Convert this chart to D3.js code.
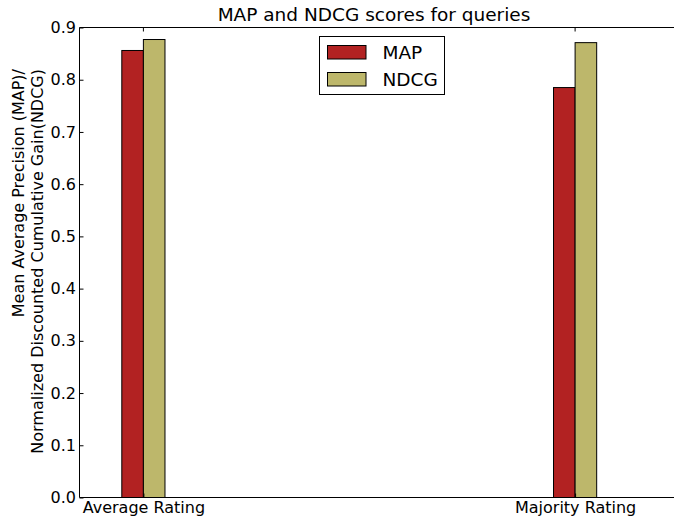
<!DOCTYPE html>
<html>
<head>
<meta charset="utf-8">
<script src="https://cdn.jsdelivr.net/npm/d3@7"></script>
<style>
  body { margin: 0; background: #fff; }
  text { font-family: "DejaVu Sans", sans-serif; fill: #000; }
</style>
</head>
<body>
<svg width="674" height="523"></svg>
<script>
var categories = ['Average Rating', 'Majority Rating'];
var mapScores = [0.856, 0.785];
var ndcgScores = [0.877, 0.871];
var seriesNames = ['MAP', 'NDCG'];
var yTicks = [0, 0.1, 0.2, 0.3, 0.4, 0.5, 0.6, 0.7, 0.8, 0.9];

var colors = { MAP: '#b22222', NDCG: '#bdb76b' };
var barW = 0.05;

var plotLeft = 79.5, plotRight = 680, plotTop = 27.5, plotBottom = 497.5;
var svg = d3.select('svg');

var x = d3.scaleLinear().domain([-0.148, 1.243]).range([plotLeft, plotRight]);
var y = d3.scaleLinear().domain([0, 0.9]).range([plotBottom, plotTop]);

// MAP bar left of the tick, NDCG bar right of it
var groups = categories.map(function(c, i) {
  return { cat: c, i: i, MAP: mapScores[i], NDCG: ndcgScores[i] };
});

var g = svg.append('g');
seriesNames.forEach(function(s, k) {
  g.selectAll('.bar-' + s)
    .data(groups)
    .enter()
    .append('rect')
    .attr('x', d => x(d.i + (k - 1) * barW))
    .attr('width', x(barW) - x(0))
    .attr('y', d => y(d[s]))
    .attr('height', d => y(0) - y(d[s]))
    .attr('fill', colors[s])
    .attr('stroke', '#000')
    .attr('stroke-width', 1);
});

// frame
svg.append('line').attr('x1', plotLeft).attr('x2', 674).attr('y1', plotTop).attr('y2', plotTop).attr('stroke', '#000');
svg.append('line').attr('x1', plotLeft).attr('x2', 674).attr('y1', plotBottom).attr('y2', plotBottom).attr('stroke', '#000');
svg.append('line').attr('x1', plotLeft).attr('x2', plotLeft).attr('y1', plotTop).attr('y2', plotBottom).attr('stroke', '#000');

// y axis, ticks inward
var yAxis = svg.append('g')
  .attr('transform', 'translate(' + plotLeft + ',0)')
  .call(d3.axisLeft(y).tickValues(yTicks).tickFormat(d3.format('.1f')).tickSizeInner(-4).tickSizeOuter(0).tickPadding(3.5));
yAxis.select('.domain').remove();
yAxis.selectAll('text').style('font-size', '16px').style('font-family', '"DejaVu Sans", sans-serif');

// x axis ticks inward on bottom and top
var xAxis = svg.append('g')
  .attr('transform', 'translate(0,' + plotBottom + ')')
  .call(d3.axisBottom(x).tickValues(groups.map(d => d.i)).tickFormat((d, i) => categories[i]).tickSizeInner(-4).tickSizeOuter(0).tickPadding(4.5));
xAxis.select('.domain').remove();
xAxis.selectAll('text').style('font-size', '16px').style('font-family', '"DejaVu Sans", sans-serif');

svg.append('g')
  .selectAll('line')
  .data(groups)
  .enter()
  .append('line')
  .attr('x1', d => x(d.i)).attr('x2', d => x(d.i))
  .attr('y1', plotTop).attr('y2', plotTop + 4)
  .attr('stroke', '#000');

// title
svg.append('text')
  .attr('x', 374)
  .attr('y', 21)
  .attr('text-anchor', 'middle')
  .style('font-size', '18.5px')
  .text('MAP and NDCG scores for queries');

// y label, both lines end-aligned at the top
var yl = svg.append('text')
  .attr('transform', 'translate(24,69) rotate(-90)')
  .attr('text-anchor', 'end')
  .style('font-size', '16px');
yl.append('tspan').attr('x', 0).attr('dy', 0).text('Mean Average Precision (MAP)/');
yl.append('tspan').attr('x', 0).attr('dy', 19).text('Normalized Discounted Cumulative Gain(NDCG)');

// legend
var lg = svg.append('g');
lg.append('rect')
  .attr('x', 319.5).attr('y', 36.5).attr('width', 125).attr('height', 58)
  .attr('fill', '#fff').attr('stroke', '#000');
seriesNames.forEach(function(s, k) {
  lg.append('rect')
    .attr('x', 327.5).attr('y', 45.5 + k * 27).attr('width', 38.5).attr('height', 13.5)
    .attr('fill', colors[s]).attr('stroke', '#000');
  lg.append('text')
    .attr('x', 382.5).attr('y', 59.3 + k * 26.7)
    .style('font-size', '18.5px')
    .text(s);
});
</script>
</body>
</html>
